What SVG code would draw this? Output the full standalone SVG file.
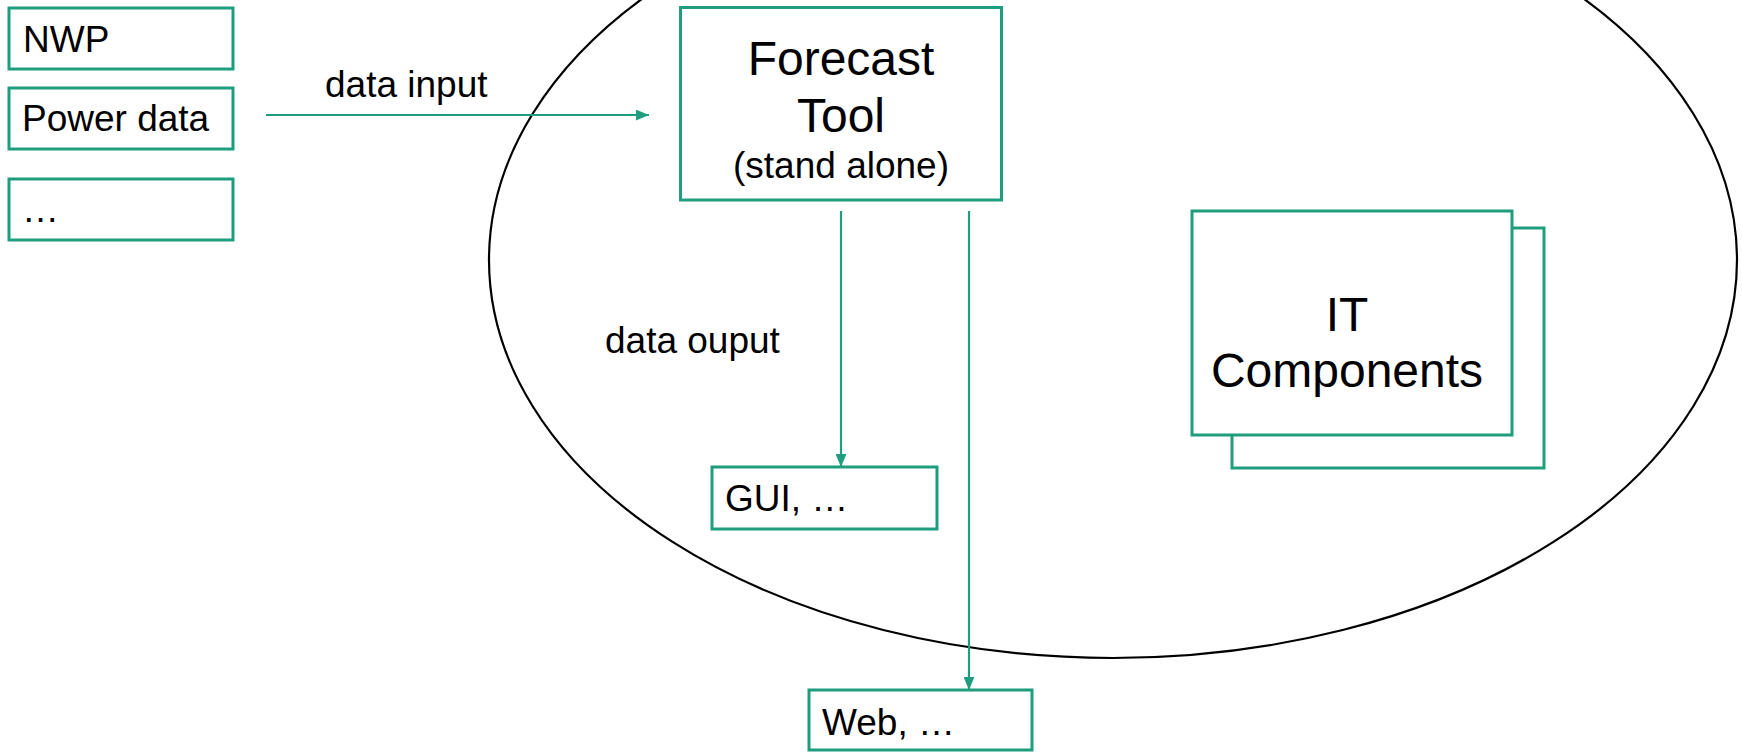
<svg xmlns="http://www.w3.org/2000/svg" width="1742" height="752" viewBox="0 0 1742 752">
<style>
.box{fill:#fff;stroke:#1f9e7f;stroke-width:3}
.conn{stroke:#1f9e7f;stroke-width:2.2;fill:none}
.t{font-family:"Liberation Sans",Arial,sans-serif;fill:#000}
.s{font-size:37px}
.b{font-size:48px}
</style>
<defs>
<marker id="ah2" viewBox="0 0 12 10" refX="12" refY="5" markerWidth="13" markerHeight="11" markerUnits="userSpaceOnUse" orient="auto">
<path d="M0,0 L12,5 L0,10 z" fill="#1f9e7f"/>
</marker>
</defs>
<rect width="1742" height="752" fill="#fff"/>
<ellipse id="scope" cx="1113" cy="260" rx="624" ry="398" fill="none" stroke="#000" stroke-width="2.2"/>
<g id="nwp"><rect class="box" x="9" y="8" width="224" height="61"/><text class="t s" x="23" y="52">NWP</text></g>
<g id="power"><rect class="box" x="9" y="88" width="224" height="61"/><text class="t s" x="22" y="131">Power data</text></g>
<g id="more"><rect class="box" x="9" y="179" width="224" height="61"/><text class="t s" x="22" y="222">…</text></g>
<g id="forecast"><rect class="box" x="680.5" y="7.5" width="321" height="192.5"/>
<text class="t b" x="841" y="75" text-anchor="middle">Forecast</text>
<text class="t b" x="841" y="132" text-anchor="middle">Tool</text>
<text class="t s" x="841" y="178" text-anchor="middle">(stand alone)</text></g>
<g id="it"><rect class="box" x="1232" y="228" width="312" height="240"/><rect class="box" x="1192" y="211" width="320" height="224"/>
<text class="t b" x="1347" y="331" text-anchor="middle">IT</text>
<text class="t b" x="1347" y="387" text-anchor="middle">Components</text></g>
<g id="gui"><rect class="box" x="712" y="467" width="225" height="62"/><text class="t s" x="725" y="511">GUI, …</text></g>
<g id="web"><rect class="box" x="809" y="690" width="223" height="60"/><text class="t s" x="822" y="735">Web, …</text></g>
<g id="connectors">
<line class="conn" x1="266" y1="115" x2="649" y2="115" marker-end="url(#ah2)"/>
<line class="conn" x1="841" y1="211" x2="841" y2="467" marker-end="url(#ah2)"/>
<line class="conn" x1="969" y1="211" x2="969" y2="690" marker-end="url(#ah2)"/>
</g>
<text class="t s" x="325" y="97">data input</text>
<text class="t s" x="605" y="353">data ouput</text>
</svg>
